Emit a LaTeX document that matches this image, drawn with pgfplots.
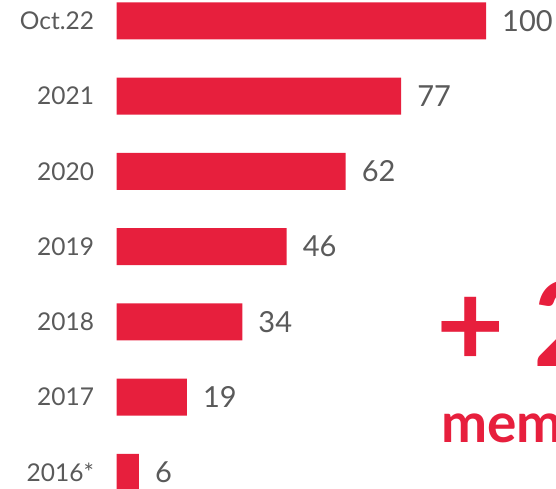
\documentclass[border=0pt]{standalone}
\usepackage{pgfplots}
\pgfplotsset{compat=1.18}
\usepackage{fontspec}
\setmainfont{Lato}
\definecolor{barred}{HTML}{E71F3D}
\definecolor{txtgrey}{HTML}{5A5A5A}
\begin{document}
\begin{tikzpicture}
\path[use as bounding box, clip] (0pt,0pt) rectangle (556pt,489pt);
\begin{axis}[
    at={(116.7pt,16.5pt)}, anchor=south west,
    scale only axis,
    width=369.3pt, height=451.7pt,
    xmin=0, xmax=100, ymin=0, ymax=6,
    clip=false,
    axis line style={draw=none},
    major tick length=0pt,
    xtick=\empty,
    ytick={0,1,2,3,4,5,6},
    yticklabels={2016*,2017,2018,2019,2020,2021,Oct.22},
    yticklabel style={anchor=east, inner sep=0pt, xshift=-22.5pt,
                      text=txtgrey, font=\fontsize{24.5}{28}\selectfont},
    /pgf/number format/assume math mode=true,
  ]
\addplot[xbar, bar width=37pt, bar shift=0pt, fill=barred, draw=none,
         nodes near coords,
         nodes near coords style={anchor=west, inner sep=0pt, xshift=16pt,
                                  text=txtgrey, font=\fontsize{29}{34}\selectfont}]
  coordinates {(6,0) (19,1) (34,2) (46,3) (62,4) (77,5) (100,6)};
\end{axis}
\node[anchor=base west, inner sep=0pt, text=barred,
      font=\fontsize{118}{120}\selectfont\bfseries] at (436pt,122.3pt) {+ 2};
\node[anchor=base west, inner sep=0pt, text=barred,
      font=\fontsize{55}{60}\selectfont\bfseries] at (441pt,46.3pt) {mem};
\end{tikzpicture}
\end{document}
